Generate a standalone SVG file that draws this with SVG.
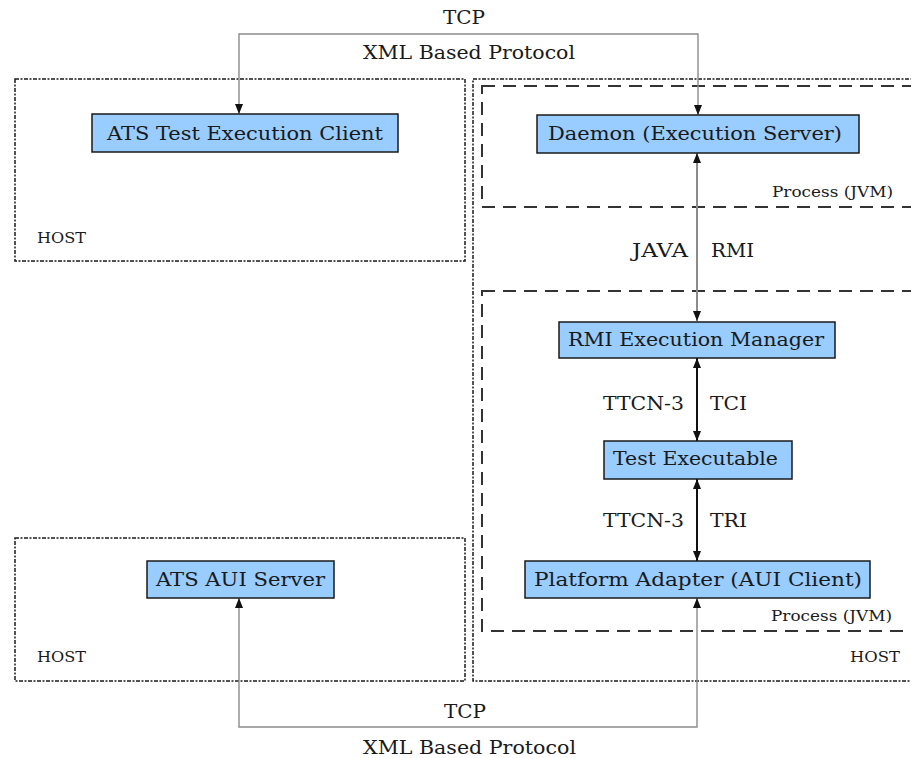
<svg xmlns="http://www.w3.org/2000/svg" width="911" height="758" viewBox="0 0 911 758">
<defs>
<marker id="arr" markerUnits="userSpaceOnUse" markerWidth="10" markerHeight="10" viewBox="0 0 10 10" refX="10" refY="5" orient="auto-start-reverse">
<path d="M0,1 L10,5 L0,9 Z" fill="#111"/>
</marker>
<style>
.host{fill:none;stroke:#1a1a1a;stroke-width:1.5;stroke-dasharray:4 1.5 2 1.5}
.proc{fill:none;stroke:#333;stroke-width:2;stroke-dasharray:13 8}
.box{fill:#99ccff;stroke:#1a1a1a;stroke-width:1.5}
.t{font-family:"DejaVu Serif","Liberation Serif",serif;fill:#1a1a1a}
.big{font-size:18px}
.sm{font-size:14px}
.gray{fill:none;stroke:#8c8c8c;stroke-width:1.4}
.dark{fill:none;stroke:#111;stroke-width:2}
</style>
</defs>
<rect width="911" height="758" fill="#fff"/>
<g id="containers">
<rect class="host" x="15" y="79" width="450" height="182"/>
<rect class="host" x="15" y="538" width="450" height="143"/>
<rect class="host" x="473" y="79" width="460" height="602"/>
<rect class="proc" x="482" y="86" width="450" height="121"/>
<rect class="proc" x="482" y="291" width="450" height="340"/>
<text class="t sm" x="37" y="243" textLength="49" lengthAdjust="spacingAndGlyphs">HOST</text>
<text class="t sm" x="37" y="662" textLength="49" lengthAdjust="spacingAndGlyphs">HOST</text>
<text class="t sm" x="850" y="662" textLength="50" lengthAdjust="spacingAndGlyphs">HOST</text>
<text class="t sm" x="772" y="197" textLength="121" lengthAdjust="spacingAndGlyphs">Process (JVM)</text>
<text class="t sm" x="771" y="621" textLength="121" lengthAdjust="spacingAndGlyphs">Process (JVM)</text>
</g>
<g id="connectors">
<path class="gray" d="M239,114 V34 H698 V115" marker-start="url(#arr)" marker-end="url(#arr)"/>
<path class="gray" d="M239,598 V727 H697 V598" marker-start="url(#arr)" marker-end="url(#arr)"/>
<path class="gray" style="stroke-width:2" d="M697,153 V321" marker-start="url(#arr)" marker-end="url(#arr)"/>
<path class="dark" d="M697,358 V441" marker-start="url(#arr)" marker-end="url(#arr)"/>
<path class="dark" d="M697,479 V561" marker-start="url(#arr)" marker-end="url(#arr)"/>
<text class="t big" x="443" y="24" textLength="42" lengthAdjust="spacingAndGlyphs">TCP</text>
<text class="t big" x="363" y="59" textLength="212" lengthAdjust="spacingAndGlyphs">XML Based Protocol</text>
<text class="t big" x="444" y="718" textLength="42" lengthAdjust="spacingAndGlyphs">TCP</text>
<text class="t big" x="363" y="754" textLength="213" lengthAdjust="spacingAndGlyphs">XML Based Protocol</text>
<text class="t big" x="632" y="257" textLength="56" lengthAdjust="spacingAndGlyphs">JAVA</text>
<text class="t big" x="711" y="257" textLength="43" lengthAdjust="spacingAndGlyphs">RMI</text>
<text class="t big" x="603" y="410" textLength="81" lengthAdjust="spacingAndGlyphs">TTCN-3</text>
<text class="t big" x="710" y="410" textLength="37" lengthAdjust="spacingAndGlyphs">TCI</text>
<text class="t big" x="603" y="527" textLength="81" lengthAdjust="spacingAndGlyphs">TTCN-3</text>
<text class="t big" x="710" y="527" textLength="37" lengthAdjust="spacingAndGlyphs">TRI</text>
</g>
<g id="ats-client">
<rect class="box" x="92" y="114" width="306" height="38"/>
<text class="t big" x="107" y="140" textLength="276" lengthAdjust="spacingAndGlyphs">ATS Test Execution Client</text>
</g>
<g id="daemon">
<rect class="box" x="537" y="115" width="322" height="38"/>
<text class="t big" x="548" y="140" textLength="294" lengthAdjust="spacingAndGlyphs">Daemon (Execution Server)</text>
</g>
<g id="rmi-manager">
<rect class="box" x="559" y="322" width="276" height="36"/>
<text class="t big" x="568" y="346" textLength="256" lengthAdjust="spacingAndGlyphs">RMI Execution Manager</text>
</g>
<g id="test-executable">
<rect class="box" x="604" y="441" width="188" height="38"/>
<text class="t big" x="613" y="465" textLength="165" lengthAdjust="spacingAndGlyphs">Test Executable</text>
</g>
<g id="platform-adapter">
<rect class="box" x="525" y="561" width="345" height="37"/>
<text class="t big" x="534" y="586" textLength="328" lengthAdjust="spacingAndGlyphs">Platform Adapter (AUI Client)</text>
</g>
<g id="ats-aui-server">
<rect class="box" x="147" y="561" width="187" height="37"/>
<text class="t big" x="156" y="586" textLength="169" lengthAdjust="spacingAndGlyphs">ATS AUI Server</text>
</g>
</svg>
